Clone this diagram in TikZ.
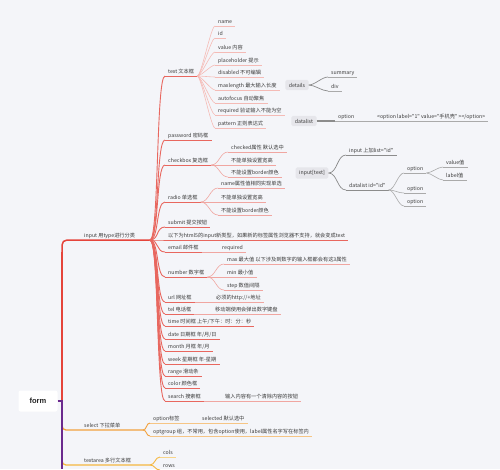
\documentclass[tikz,border=0pt]{standalone}
\usepackage{fontspec}
\newfontfamily\cjk{Noto Sans CJK SC}
\newfontfamily\lsans{Liberation Sans}
\definecolor{bg}{HTML}{F4F5F9}
\definecolor{rd}{HTML}{E5443B}
\definecolor{rd2}{HTML}{E8675F}
\definecolor{pk}{HTML}{F0A6A1}
\definecolor{pk2}{HTML}{F4BBB6}
\definecolor{og}{HTML}{F2A23F}
\definecolor{og2}{HTML}{F6C585}
\definecolor{yl}{HTML}{F4B740}
\definecolor{yl2}{HTML}{F8D58A}
\definecolor{pu}{HTML}{6B2A8E}
\definecolor{gy}{HTML}{8C8C8C}
\definecolor{gyl}{HTML}{AAAAAA}
\definecolor{bx}{HTML}{E6E6EB}
\definecolor{tx}{HTML}{3A3A3A}
\tikzset{
  lf/.style={font=\cjk\fontsize{5.2}{6}\selectfont, text=tx, inner xsep=3pt, inner ysep=1pt,
             text height=3.8pt, text depth=1pt, anchor=south west},
  gbox/.style={font=\cjk\fontsize{5.2}{6}\selectfont, text=tx, fill=bx, rounded corners=1.5pt,
             inner xsep=3.5pt, inner ysep=3pt},
  fan/.style={out=0, in=180, out distance=#1, in distance=#1},
  fan/.default=6pt,
  c1/.style={rd2, line width=0.9pt},
  c2/.style={pk, line width=0.6pt},
  c3/.style={pk2, line width=0.6pt},
  cg/.style={gy, line width=0.7pt},
  cgl/.style={gyl, line width=0.6pt},
}
\newcommand\lfn[5]{\node[lf] (#2) at (#3,#4) {#5};\draw[#1] (#2.south west) -- (#2.south east);}
\begin{document}
\begin{tikzpicture}[x=1pt,y=-1pt]
\useasboundingbox (0,0) rectangle (500,469);
\fill[bg] (0,0) rectangle (500,469);

% root
\node[fill=white, rounded corners=2pt, minimum width=39pt, minimum height=21pt,
      font=\lsans\bfseries\fontsize{7.5}{9}\selectfont, text=black!85] (form) at (38,401) {form};
\coordinate (tr) at (62,401);
\coordinate (bot) at (62,469);
\coordinate (inE) at (150,240);
\coordinate (selE) at (143,430);
\coordinate (taE) at (150,465);

% branches from root
\draw[og, line width=1.3pt, rounded corners=4pt] (62,418) |- (selE);
\draw[yl, line width=1.3pt, rounded corners=4pt] (62,452) |- (taE);
\draw[rd, line width=2.6pt] (tr) -- (62,252);
\draw[rd, line width=1.5pt, rounded corners=5pt] (62,254) |- (inE);
\draw[pu, line width=2.4pt] (form.east) -- (tr) -- (bot);

\node[lf] (in) at (81,240) {input 用type进行分类};
\node[lf] (sel) at (81,430) {select 下拉菜单};
\node[lf] (ta) at (81,465) {textarea 多行文本框};

% input children
\lfn{c1}{t}{165}{76}{text 文本框}
\lfn{c1}{pw}{165}{140}{password 密码框}
\lfn{c1}{cb}{165}{165}{checkbox 复选框}
\lfn{c1}{rb}{165}{202}{radio 单选框}
\lfn{c1}{sb}{165}{227}{submit 提交按钮}
\lfn{c1}{h5}{165}{240}{以下为html5的input新类型，如果新的标签属性浏览器不支持，就会变成text}
\lfn{c1}{em}{165}{252}{email 邮件框}
\lfn{c1}{nu}{165}{277}{number 数字框}
\lfn{c1}{ur}{165}{302}{url 网址框}
\lfn{c1}{te}{165}{314}{tel 电话框}
\lfn{c1}{ti}{165}{326}{time 时间框 上午/下午：时：分：秒}
\lfn{c1}{da}{165}{339}{date 日期框 年/月/日}
\lfn{c1}{mo}{165}{351}{month 月框 年/月}
\lfn{c1}{we}{165}{364}{week 星期框 年-星期}
\lfn{c1}{ra}{165}{376}{range 滑动条}
\lfn{c1}{co}{165}{388}{color 颜色框}
\lfn{c1}{se}{165}{401}{search 搜索框}
\foreach \n in {t,pw,cb,rb,sb,h5,em,nu,ur,te,ti,da,mo,we,ra,co,se}
  \draw[c1] (inE) to[fan=9pt] (\n.south west);

% text children
\lfn{c3}{t1}{215}{26}{name}
\lfn{c3}{t2}{215}{38}{id}
\lfn{c3}{t3}{215}{52}{value 内容}
\lfn{c3}{t4}{215}{65}{placeholder 提示}
\lfn{c3}{t5}{215}{77}{disabled 不可编辑}
\lfn{c3}{t6}{215}{90}{maxlength 最大输入长度}
\lfn{c3}{t7}{215}{103}{autofocus 自动聚焦}
\lfn{c3}{t8}{215}{115}{required 验证输入不能为空}
\lfn{c3}{t9}{215}{128}{pattern 正则表达式}
\foreach \n in {t1,t2,t3,t4,t5,t6,t7,t8,t9}
  \draw[c3] (t.south east) to[fan=4pt] (\n.south west);

% checkbox children
\lfn{c2}{cb1}{228}{152}{checked属性 默认选中}
\lfn{c2}{cb2}{228}{165}{不能单独设置宽高}
\lfn{c2}{cb3}{228}{177}{不能设置border颜色}
\foreach \n in {cb1,cb2,cb3}
  \draw[c2] (cb.south east) to[fan=8pt] (\n.south west);

% radio children
\lfn{c2}{rb1}{218}{188}{name属性值相同实现单选}
\lfn{c2}{rb2}{218}{202}{不能单独设置宽高}
\lfn{c2}{rb3}{218}{215}{不能设置border颜色}
\foreach \n in {rb1,rb2,rb3}
  \draw[c2] (rb.south east) to[fan=8pt] (\n.south west);

% email, number, url, tel, search children
\lfn{c2}{emr}{219}{252}{required}
\draw[c2] (em.south east) -- (emr.south west);
\lfn{c2}{nu1}{224}{264}{max 最大值 以下涉及到数字的输入框都会有这3属性}
\lfn{c2}{nu2}{224}{277}{min 最小值}
\lfn{c2}{nu3}{224}{290}{step 数值间隔}
\foreach \n in {nu1,nu2,nu3}
  \draw[c2] (nu.south east) to[fan=8pt] (\n.south west);
\lfn{c2}{urr}{213}{302}{必须的http://+地址}
\draw[c2] (ur.south east) -- (urr.south west);
\lfn{c2}{ter}{212}{314}{移动端使用会弹出数字键盘}
\draw[c2] (te.south east) -- (ter.south west);
\lfn{c2}{ser}{222}{401}{输入内容有一个清除内容的按钮}
\draw[c2] (se.south east) -- (ser.south west);

% floating: details
\node[gbox] (dt) at (297,85) {details};
\lfn{cgl}{ds1}{328}{77}{summary}
\lfn{cgl}{ds2}{328}{91}{div}
\foreach \n in {ds1,ds2}
  \draw[cg] (dt.east) to[fan=6pt] (\n.south west);

% floating: datalist
\node[gbox] (dl) at (304,121) {datalist};
\lfn{cgl}{dlo}{335}{121}{option}
\lfn{cgl}{dlo2}{374}{121}{<option label="1" value="手机壳" ></option>}
\draw[gy, line width=1.3pt] (dl.east) -- (dlo.south west);
\draw[cgl] (dlo.south east) -- (dlo2.south west);

% floating: input[text]
\node[gbox] (it) at (312,173) {input[text]};
\lfn{cg}{it1}{346}{155}{input 上加list="id"}
\lfn{cg}{it2}{346}{190}{datalist id="id"}
\foreach \n in {it1,it2}
  \draw[cg] (it.east) to[fan=9pt] (\n.south west);
\lfn{cgl}{op1}{404}{173}{option}
\lfn{cgl}{op2}{404}{193}{option}
\lfn{cgl}{op3}{404}{206}{option}
\foreach \n in {op1,op2,op3}
  \draw[cgl] (it2.south east) to[fan=6pt] (\n.south west);
\lfn{cgl}{ov}{443}{167}{value值}
\lfn{cgl}{ol}{443}{180}{label值}
\foreach \n in {ov,ol}
  \draw[cgl] (op1.south east) to[fan=5pt] (\n.south west);

% select children
\lfn{og2}{s1}{150}{423}{option标签}
\lfn{og2}{s1r}{199}{423}{selected 默认选中}
\draw[og2] (s1.south east) -- (s1r.south west);
\lfn{og2}{s2}{150}{436}{optgroup 组，不常用，包含option使用，label属性名字写在标签内}
\foreach \n in {s1,s2}
  \draw[og, line width=0.9pt] (selE) to[fan=4pt] (\n.south west);

% textarea children
\lfn{yl2}{ta1}{160}{457}{cols}
\lfn{yl2}{ta2}{160}{470}{rows}
\foreach \n in {ta1,ta2}
  \draw[yl, line width=0.9pt] (taE) to[fan=5pt] (\n.south west);
\end{tikzpicture}
\end{document}
